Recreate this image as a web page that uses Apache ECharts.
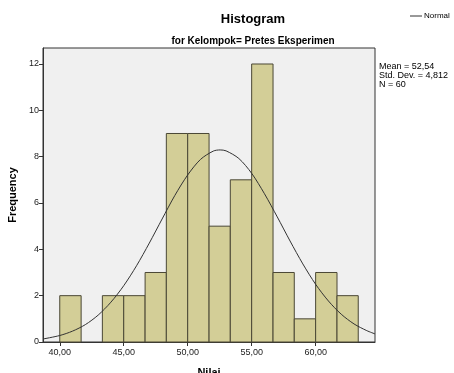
<!DOCTYPE html>
<html>
<head>
<meta charset="utf-8">
<script src="https://cdn.jsdelivr.net/npm/echarts@6/dist/echarts.min.js"></script>
<style>
  html, body { margin: 0; padding: 0; background: #fff; }
  #chart { width: 454px; height: 373px; }
</style>
</head>
<body>
<div id="chart"></div>
<script>
var chart = echarts.init(document.getElementById("chart"));

// histogram bins (left edge of each bin) and counts
let binEdges = [40, 41.67, 43.33, 45, 46.67, 48.33, 50, 51.67, 53.33, 55, 56.67, 58.33, 60, 61.67, 63.33];
let counts = [2, 0, 2, 2, 3, 9, 9, 5, 7, 12, 3, 1, 3, 2];

// normal curve
let curveX = [38.69, 40, 41, 42, 43, 44, 45, 46, 47, 48, 49, 50, 51, 52, 52.54, 53, 54, 55, 56, 57, 58, 59, 60, 61, 62, 63, 64, 64.64];
let curveY = [0.13, 0.28, 0.47, 0.75, 1.16, 1.72, 2.43, 3.29, 4.27, 5.31, 6.33, 7.21, 7.88, 8.24, 8.29, 8.25, 7.92, 7.28, 6.40, 5.40, 4.36, 3.37, 2.49, 1.77, 1.20, 0.78, 0.49, 0.35];

let xTicks = [40, 45, 50, 55, 60];
let yTicks = [0, 2, 4, 6, 8, 10, 12];
let stats = ["Mean = 52,54", "Std. Dev. = 4,812", "N = 60"];

let bars = [];
for (let i = 0; i < counts.length; i++) {
  bars.push([binEdges[i], binEdges[i + 1], counts[i]]);
}
let line = curveX.map(function (x, i) { return [x, curveY[i]]; });

let font = "Arial, 'Liberation Sans', sans-serif";

chart.setOption({
  animation: false,
  textStyle: { fontFamily: font },
  title: [
    {
      text: "Histogram",
      left: 248, top: 8, textAlign: "center",
      textStyle: { fontSize: 13, fontWeight: "bold", color: "#000", fontFamily: font }
    },
    {
      text: "for Kelompok= Pretes Eksperimen",
      left: 248, top: 31, textAlign: "center",
      textStyle: { fontSize: 10, fontWeight: "bold", color: "#000", fontFamily: font }
    }
  ],
  graphic: [
    { type: "line", shape: { x1: 410, y1: 16, x2: 422, y2: 16 }, style: { stroke: "#333", lineWidth: 1 } },
    { type: "text", left: 424, top: 12, style: { text: "Normal", fontSize: 8, fill: "#000", fontFamily: font } },
    { type: "text", left: 379, top: 62, style: { text: stats.join("\n"), fontSize: 9, lineHeight: 9, fill: "#000", fontFamily: font } }
  ],
  grid: {
    left: 43, right: 79, top: 48, bottom: 31,
    outerBoundsMode: "none",
    show: true, backgroundColor: "#F0F0F0", borderColor: "#333", borderWidth: 1
  },
  xAxis: {
    type: "value",
    min: 38.69, max: 64.64,
    name: "Nilai", nameLocation: "middle", nameGap: 25,
    nameTextStyle: { fontSize: 11, fontWeight: "bold", color: "#000" },
    splitLine: { show: false },
    axisLine: { show: true, lineStyle: { color: "#333" } },
    axisTick: { show: true, length: 4, customValues: xTicks, lineStyle: { color: "#333" } },
    axisLabel: {
      customValues: xTicks, fontSize: 9, color: "#222", margin: 6,
      formatter: function (v) { return v.toFixed(2).replace(".", ","); }
    }
  },
  yAxis: {
    type: "value",
    min: 0, max: 12.69,
    name: "Frequency", nameLocation: "middle", nameGap: 23, nameRotate: 90,
    nameTextStyle: { fontSize: 11, fontWeight: "bold", color: "#000" },
    splitLine: { show: false },
    axisLine: { show: true, lineStyle: { color: "#333" } },
    axisTick: { show: true, length: 4, customValues: yTicks, lineStyle: { color: "#333" } },
    axisLabel: { customValues: yTicks, fontSize: 9, color: "#222", margin: 4 }
  },
  series: [
    {
      type: "custom",
      data: bars,
      renderItem: function (params, api) {
        if (api.value(2) === 0) return null;
        let p0 = api.coord([api.value(0), api.value(2)]);
        let p1 = api.coord([api.value(1), 0]);
        return {
          type: "rect",
          shape: { x: p0[0], y: p0[1], width: p1[0] - p0[0], height: p1[1] - p0[1] },
          style: { fill: "#D3CE97", stroke: "#4A4735", lineWidth: 1 }
        };
      }
    },
    {
      type: "line",
      data: line,
      smooth: 0.3,
      showSymbol: false,
      lineStyle: { color: "#333", width: 1 },
      z: 5
    }
  ]
});
</script>
</body>
</html>
